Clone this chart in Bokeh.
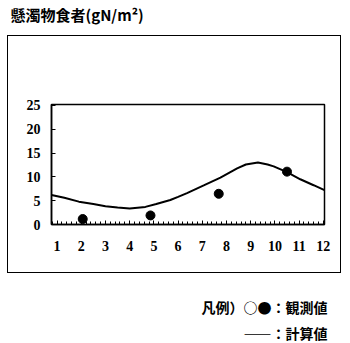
from bokeh.plotting import figure
from bokeh.models import FixedTicker, Range1d, Title, InlineStyleSheet
from bokeh.embed import file_html
from bokeh.resources import INLINE

# data
obs_month = [2.06, 4.86, 7.68, 10.5]
obs_value = [1.15, 1.9, 6.45, 11.1]

calc_month = [0.77, 1.3, 1.9, 2.5, 3.0, 3.5, 4.0, 4.65, 5.1, 5.68, 6.0, 6.37, 7.06,
              7.75, 8.44, 8.8, 9.3, 9.7, 9.95, 10.5, 11.05, 11.6, 12.05]
calc_value = [6.2, 5.6, 4.8, 4.3, 3.85, 3.55, 3.35, 3.7, 4.3, 5.15, 5.8, 6.6, 8.2,
              9.85, 11.8, 12.6, 13.0, 12.6, 12.2, 11.0, 9.5, 8.25, 7.2]

x_ticks = list(range(1, 13))
y_ticks = [0, 5, 10, 15, 20, 25]

title_text = "懸濁物食者(gN/m²)"
legend_obs = "凡例）○●：観測値"
legend_calc = "――：計算値"

W, H = 350, 343

p = figure(width=W, height=H, output_backend="svg", toolbar_location=None,
           x_range=Range1d(0.77, 12.05), y_range=Range1d(0, 25.2),
           min_border_left=51, min_border_right=26,
           min_border_top=0, min_border_bottom=0)
p.background_fill_color = "white"
p.border_fill_color = "white"
p.grid.visible = False
p.outline_line_color = "black"
p.outline_line_width = 1.5

ax = p.xaxis[0]
ax.ticker = FixedTicker(ticks=x_ticks,
                        minor_ticks=[0.8 + 0.2 * i for i in range(57)])
ax.major_tick_in = 4
ax.major_tick_out = 0
ax.minor_tick_in = 3
ax.minor_tick_out = 0
ax.axis_line_width = 1.5
ax.major_label_standoff = 16
ax.major_label_text_font = "Liberation Serif"
ax.major_label_text_font_style = "bold"
ax.major_label_text_font_size = "14px"
ax.major_label_text_color = "black"

ay = p.yaxis[0]
ay.ticker = FixedTicker(ticks=y_ticks)
ay.major_tick_in = 4
ay.major_tick_out = 0
ay.minor_tick_in = 0
ay.minor_tick_out = 0
ay.axis_line_width = 1.5
ay.major_label_standoff = 11
ay.major_label_text_font = "Liberation Serif"
ay.major_label_text_font_style = "bold"
ay.major_label_text_font_size = "14px"
ay.major_label_text_color = "black"

p.line(calc_month, calc_value, line_color="black", line_width=2)
p.scatter(obs_month, obs_value, size=9, fill_color="black", line_color="black")

def title(text, size, align, offset, standoff, color="black"):
    return Title(text=text, align=align, offset=offset, standoff=standoff,
                 text_font="Noto Sans CJK JP", text_font_style="bold",
                 text_font_size=size, text_color=color)

# above: the first one added sits nearest the frame
p.add_layout(title(" ", "15px", "left", 0, 56, color="white"), "above")
p.add_layout(title(title_text, "15px", "left", -41, 2), "above")

# below: after the x axis
p.add_layout(title(" ", "14px", "right", 0, 15, color="white"), "below")
p.add_layout(title(legend_obs, "14px", "right", -3, 8), "below")
p.add_layout(title(legend_calc, "14px", "right", -3, 1), "below")

# outer frame around the chart area
p.stylesheets = [InlineStyleSheet(css=(
    ":host { position: relative; }"
    ":host::after { content: ''; position: absolute; left: 7px; top: 35px;"
    " width: 334px; height: 238px; border: 1.5px solid black;"
    " box-sizing: border-box; pointer-events: none; }"))]

open("out.html", "w").write(file_html(p, INLINE))
